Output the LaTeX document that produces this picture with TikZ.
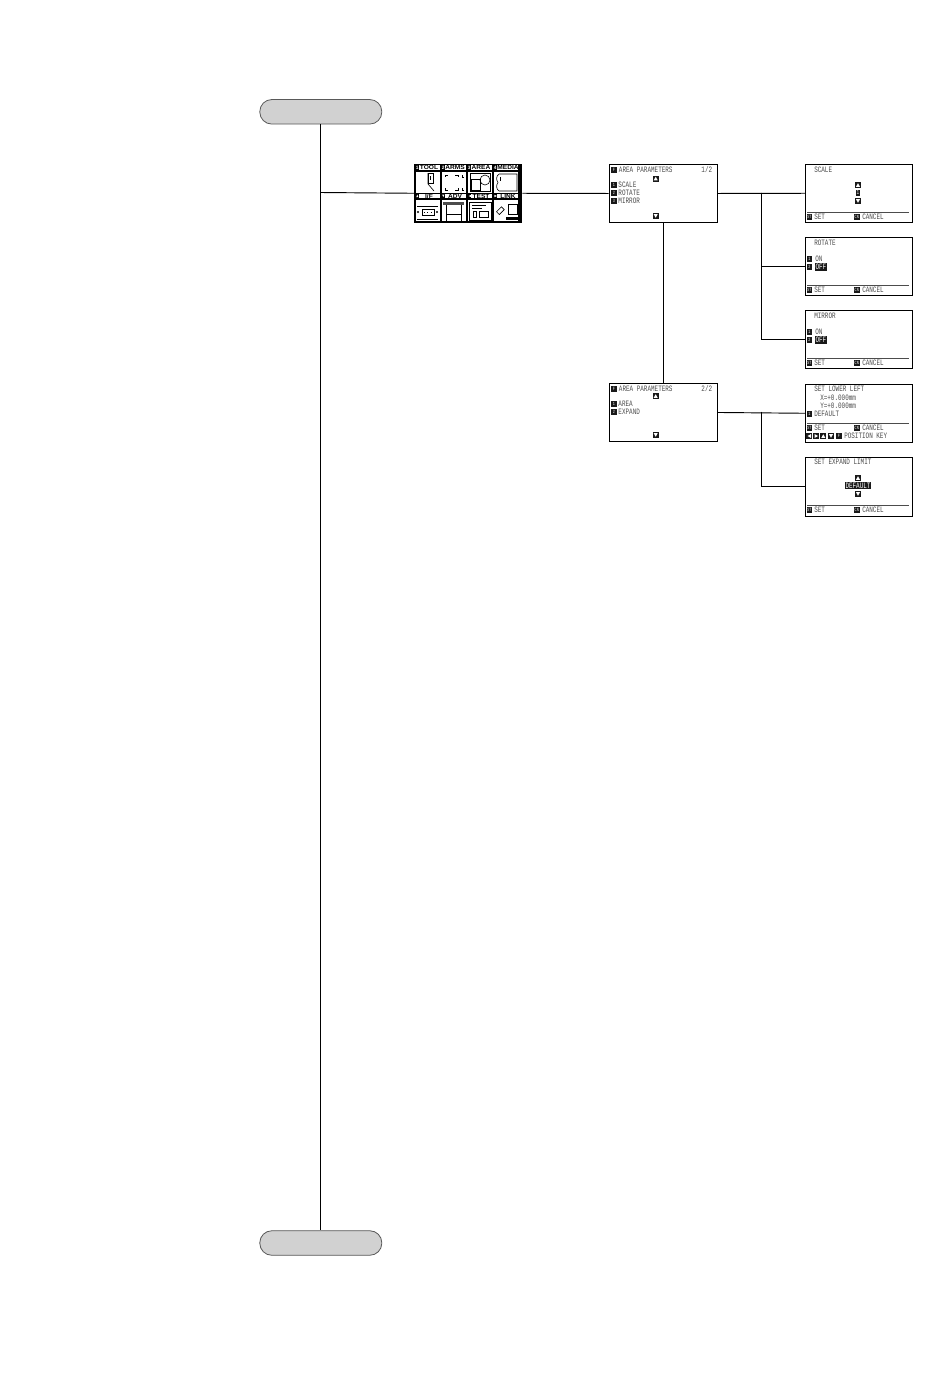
\documentclass[tikz,border=0pt]{standalone}
\usepackage{fontspec}
\setmainfont{Liberation Sans}
\newfontfamily\lcd[FakeStretch=0.72]{Liberation Mono}
\newfontfamily\tabf[FakeStretch=1.1]{Liberation Sans}
\newcommand{\lcdtxt}{\fontsize{6.2pt}{6.2pt}\selectfont\lcd}
\tikzset{
  pill/.style={draw=black!65,fill=black!18,line width=.6pt,rounded corners=9pt,minimum width=91.5pt,minimum height=18.4pt,inner sep=0pt},
  screen/.style={draw=black,fill=white,line width=.7pt,anchor=north west,inner sep=0pt,minimum width=80.6pt,minimum height=43.2pt},
  wire/.style={draw=black,line width=.7pt},
  lt/.style={anchor=west,inner sep=0pt,text=black!70,font=\lcdtxt},
  lk/.style={anchor=center,inner sep=0pt,text=white,font=\fontsize{3.6pt}{3.6pt}\selectfont\lcd},
  inv/.style={anchor=west,inner sep=.6pt,fill=black!90,text=white,font=\lcdtxt},
  sepl/.style={draw=black!70,line width=.4pt},
  ic/.style={draw=black,line width=.45pt},
  tabt/.style={anchor=center,inner sep=0pt,text=black,font=\fontsize{4.5pt}{4.5pt}\selectfont\bfseries\tabf}
}
% key: x,y top-left (px), text
\newcommand{\keyb}[3]{\fill[black!90] (#1,#2) rectangle ++(5.6,6); \node[lk] at ($(#1,#2)+(2.8,3)$) {#3};}
% triangle keys
\newcommand{\keyup}[2]{\fill[black!90] (#1,#2) rectangle ++(6,6); \fill[white] ($(#1,#2)+(1,4.8)$) -- ++(4,0) -- ++(-2,-3.6) -- cycle;}
\newcommand{\keydn}[2]{\fill[black!90] (#1,#2) rectangle ++(6,6); \fill[white] ($(#1,#2)+(1,1.2)$) -- ++(4,0) -- ++(-2,3.6) -- cycle;}
\newcommand{\keylf}[2]{\fill[black!90] (#1,#2) rectangle ++(6,6); \fill[white] ($(#1,#2)+(4.8,1)$) -- ++(0,4) -- ++(-3.6,-2) -- cycle;}
\newcommand{\keyrt}[2]{\fill[black!90] (#1,#2) rectangle ++(6,6); \fill[white] ($(#1,#2)+(1.2,1)$) -- ++(0,4) -- ++(3.6,-2) -- cycle;}
\newcommand{\footer}[1]{\draw[sepl] (2,#1) -- (104,#1);}
\newcommand{\setcancel}{\footer{48.6}\keyb{1.6}{50}{ST}\node[lt] at (9,53) {SET};\keyb{49}{50}{CN}\node[lt] at (57,53) {CANCEL};}
\usetikzlibrary{calc}
\begin{document}
\begin{tikzpicture}[x=0.75pt,y=-0.75pt]
\useasboundingbox (0,0) rectangle (950,1397);
\fill[white] (0,0) rectangle (950,1397);
% pills
\node[pill] (start) at (320.8,111.8) {};
\node[pill] (end) at (320.8,1243) {};
% screens
\node[screen] (menu) at (414,164) {};
\node[screen,minimum width=81pt,minimum height=43.5pt] (pa) at (608.7,164) {};
\node[screen,minimum width=81pt,minimum height=43.5pt] (pb) at (608.7,383) {};
\node[screen] (sa) at (805,164) {};
\node[screen] (sb) at (805,237) {};
\node[screen] (sc) at (805,310) {};
\node[screen] (sd) at (805,384) {};
\node[screen,minimum height=44pt] (se) at (805,457) {};
% junctions
\coordinate (jm) at (320.8,192.5);
\coordinate (ja) at (761,192.5);
\coordinate (jb) at (761,411.5);
% connectors
\draw[wire] (start.south) -- (end.north);
\draw[wire] (jm) -- (menu.west);
\draw[wire] (menu.east) -- (pa.west);
\draw[wire] (pa.east) -- (sa.west);
\draw[wire] (ja) |- (sb.west);
\draw[wire] (ja) |- (sc.west);
\draw[wire] (pa.south) -- (pb.north);
\draw[wire] (pb.east) -- (sd.west);
\draw[wire] (jb) |- (se.west);
% menu screen
\begin{scope}[shift={(414,164)}]
\fill[black] (-.5,-.5) rectangle (107.5,58.5);
\foreach \cx in {1.5,27.5,53.5,79.5}{
  \fill[white] (\cx,1.2) rectangle ++(24.8,4.8);
  \fill[white] (\cx,7.5) rectangle ++(24.8,21);
  \fill[white] (\cx,29.5) rectangle ++(24.8,4.8);
  \fill[white] (\cx,36) rectangle ++(24.8,21);
}
\foreach \cx/\ca/\cb in {1.5/TOOL/I/F,27.5/ARMS/ADV,53.5/AREA/TEST,79.5/MEDIA/LINK}{}
\fill[black] (1.5,1.2) rectangle ++(3.5,4.8);
\fill[black] (27.5,1.2) rectangle ++(3.5,4.8);
\fill[black] (53.5,1.2) rectangle ++(3.5,4.8);
\fill[black] (79.5,1.2) rectangle ++(3.5,4.8);
\fill[black] (1.5,29.5) rectangle ++(3.5,4.8);
\fill[black] (27.5,29.5) rectangle ++(3.5,4.8);
\fill[black] (53.5,29.5) rectangle ++(3.5,4.8);
\fill[black] (79.5,29.5) rectangle ++(3.5,4.8);
\node[tabt] at (15,3.7) {TOOL};
\node[tabt] at (41,3.7) {ARMS};
\node[tabt] at (67,3.7) {AREA};
\node[tabt] at (94,3.7) {MEDIA};
\node[tabt] at (15,32) {I/F};
\node[tabt] at (41,32) {ADV};
\node[tabt] at (67,32) {TEST};
\node[tabt] at (94,32) {LINK};
\node[anchor=center,inner sep=0pt,text=white,font=\fontsize{3.6pt}{3.6pt}\selectfont\bfseries] at (3.2,3.7) {1};
\node[anchor=center,inner sep=0pt,text=white,font=\fontsize{3.6pt}{3.6pt}\selectfont\bfseries] at (29.2,3.7) {2};
\node[anchor=center,inner sep=0pt,text=white,font=\fontsize{3.6pt}{3.6pt}\selectfont\bfseries] at (55.2,3.7) {3};
\node[anchor=center,inner sep=0pt,text=white,font=\fontsize{3.6pt}{3.6pt}\selectfont\bfseries] at (81.2,3.7) {4};
\fill[white] (2.2,33.2) -- ++(2.2,0) -- ++(-1.1,-2.6) -- cycle;
\fill[white] (28.2,30.6) -- ++(2.2,0) -- ++(-1.1,2.6) -- cycle;
\fill[white] (57.2,30.8) -- ++(0,2.4) -- ++(-2.6,-1.2) -- cycle;
\fill[white] (80.4,30.8) -- ++(0,2.4) -- ++(2.6,-1.2) -- cycle;
% tool icon
\draw[ic] (14,9) -- (14,20) -- (20,27);
\draw[ic] (14,9) rectangle (19,19);
\draw[ic] (16,12) -- (16,16);
% arms icon
\draw[ic] (31,11) -- (31,13) (31,11) -- (34,11);
\draw[ic] (41,11) -- (44,11) -- (44,13) (48,11) -- (48,13) -- (50,13);
\draw[ic] (31,24) -- (31,26) -- (34,26);
\draw[ic] (41,26) -- (44,26) -- (44,24) (48,24) -- (48,26) -- (50,26);
% area icon
\draw[ic] (56,9.5) rectangle (76,27);
\draw[ic] (57.5,15) rectangle (66,26);
\draw[ic] (71,16) circle[radius=5];
% media icon
\draw[ic] (85,10) -- (103,10) -- (103,27) -- (85,27) (85,10) .. controls (82,12) and (82,16) .. (84,18.5) .. controls (82,21) and (82,25) .. (85,27);
\draw[ic] (86,13) -- (86,17);
% if icon
\draw[ic] (3,42) -- (24,42) (3,55) -- (24,55);
\draw[ic] (8,45) rectangle (20,51);
\draw[ic,dotted] (10,48) -- (18,48);
\draw[ic] (4,48) circle[radius=.6] (23,48) circle[radius=.6];
% adv icon
\fill[black!70] (29,37.5) rectangle (50,41);
\draw[ic] (32,41) -- (32,57) (47,41) -- (47,57);
\draw[ic] (32,50) -- (47,50);
\draw[ic] (29,57) -- (35,57) (44,57) -- (50,57);
% test icon
\draw[ic] (55,38) rectangle (77,56);
\draw[ic] (58,41) -- (72,41) (58,44) -- (68,44);
\draw[ic] (59,47) rectangle (62,53) (65,47) rectangle (74,53);
% link icon
\draw[ic,rotate around={45:(86,47)}] (83,45) rectangle (90,49);
\draw[ic] (94,40) rectangle (103,50);
\fill[black] (92,53) rectangle (104.5,56);
\end{scope}
% page one
\begin{scope}[shift={(608.7,164)}]
\keyb{2.5}{2.5}{F}\node[lt] at (10,5.5) {AREA PARAMETERS};\node[lt] at (92.5,5.5) {1/2};
\keyup{44}{11.5}
\keyb{2.5}{18}{1}\node[lt] at (9.5,21) {SCALE};
\keyb{2.5}{26}{2}\node[lt] at (9.5,29) {ROTATE};
\keyb{2.5}{34}{3}\node[lt] at (9.5,37) {MIRROR};
\keydn{44}{49}
\end{scope}
% page two
\begin{scope}[shift={(608.7,383)}]
\keyb{2.5}{2.5}{F}\node[lt] at (10,5.5) {AREA PARAMETERS};\node[lt] at (92.5,5.5) {2/2};
\keyup{44}{10}
\keyb{2.5}{18}{1}\node[lt] at (9.5,21) {AREA};
\keyb{2.5}{26}{2}\node[lt] at (9.5,29) {EXPAND};
\keydn{44}{49}
\end{scope}
% scale
\begin{scope}[shift={(805,164)}]
\node[lt] at (9,6) {SCALE};
\keyup{50}{18}
\node[inv,anchor=center,minimum width=3.3pt,font=\fontsize{4.5pt}{5pt}\selectfont\lcd] at (53,29) {1};
\keydn{50}{34}
\setcancel
\end{scope}
% rotate
\begin{scope}[shift={(805,237)}]
\node[lt] at (9,5.5) {ROTATE};
\keyb{1.6}{19}{1}\node[lt] at (10,22) {ON};
\keyb{1.6}{27}{2}\node[inv] at (9.5,30) {OFF};
\setcancel
\end{scope}
% mirror
\begin{scope}[shift={(805,310)}]
\node[lt] at (9,5.5) {MIRROR};
\keyb{1.6}{19}{1}\node[lt] at (10,22) {ON};
\keyb{1.6}{27}{2}\node[inv] at (9.5,30) {OFF};
\setcancel
\end{scope}
% lower left
\begin{scope}[shift={(805,384)}]
\node[lt] at (9,4.5) {SET LOWER LEFT};
\node[lt] at (15,14) {X=+0.000mm};
\node[lt] at (15,22) {Y=+0.000mm};
\keyb{1.6}{27}{1}\node[lt] at (9,30) {DEFAULT};
\footer{39}
\keyb{1.6}{41}{ST}\node[lt] at (9,44) {SET};
\keyb{49}{41}{CN}\node[lt] at (57,44) {CANCEL};
\keylf{1.3}{49}\keyrt{8.3}{49}\keyup{15.3}{49}\keydn{23}{49}\keyb{31}{49}{F}
\node[lt] at (39,52) {POSITION KEY};
\end{scope}
% expand
\begin{scope}[shift={(805,457)}]
\node[lt] at (9,5) {SET EXPAND LIMIT};
\keyup{50}{18}
\node[inv,anchor=center] at (53,28.5) {DEFAULT};
\keydn{50}{34}
\setcancel
\end{scope}
\end{tikzpicture}
\end{document}
